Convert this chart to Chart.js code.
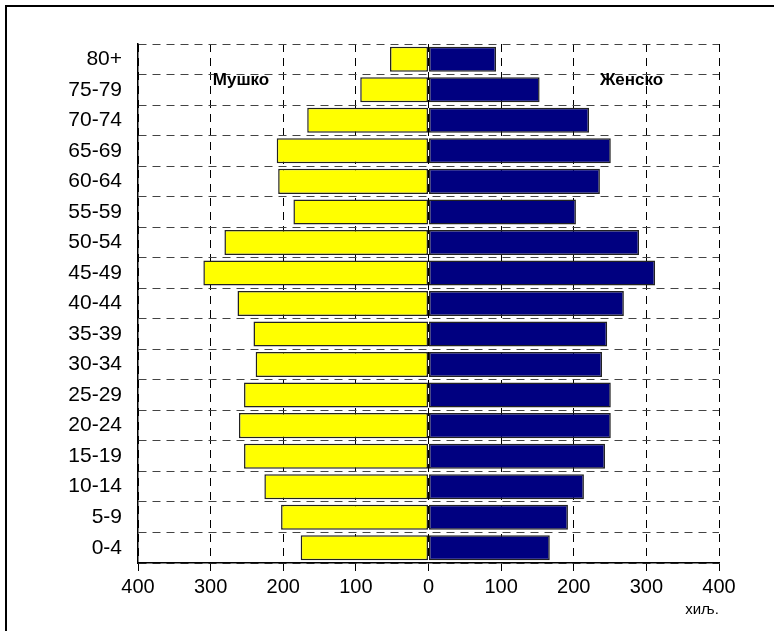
<!DOCTYPE html>
<html>
<head>
<meta charset="utf-8">
<script src="https://cdn.jsdelivr.net/npm/chart.js@4.4.1/dist/chart.umd.min.js"></script>
<style>
  html,body{margin:0;padding:0;background:#fff;}
  #wrap{position:relative;width:774px;height:631px;overflow:hidden;}
  #frame{position:absolute;left:5px;top:5px;width:800px;height:700px;border-left:2px solid #000;border-top:2px solid #000;pointer-events:none;}
  canvas{position:absolute;left:0;top:0;}
</style>
</head>
<body>
<div id="wrap">
  <canvas id="pyr" width="774" height="631"></canvas>
  <div id="frame"></div>
</div>
<script>
// age groups, top to bottom
const ageGroups = ['80+','75-79','70-74','65-69','60-64','55-59','50-54','45-49','40-44',
  '35-39','30-34','25-29','20-24','15-19','10-14','5-9','0-4'];
// thousands
const male   = [53, 94, 167, 209, 207, 186, 281, 310, 263, 241, 238, 254, 261, 254, 226, 203, 176];
const female = [93, 153, 221, 251, 236, 203, 290, 312, 269, 246, 239, 251, 251, 243, 214, 192, 167];
const xTicks = [-400, -300, -200, -100, 0, 100, 200, 300, 400];
const maleLabel = 'Мушко', femaleLabel = 'Женско', unitLabel = 'хиљ.';

const font = '"Liberation Sans", Arial, sans-serif';

const labelsPlugin = {
  id: 'pyrLabels',
  afterDraw(chart){
    const ctx = chart.ctx, x = chart.scales.x, y = chart.scales.y;
    const rowY = y.getPixelForValue(1) - 9;
    ctx.save();
    ctx.fillStyle = '#000';
    ctx.textBaseline = 'middle';
    ctx.font = 'bold 17px ' + font;
    ctx.textAlign = 'left';
    ctx.fillText(maleLabel, x.getPixelForValue(-297), rowY);
    ctx.fillText(femaleLabel, x.getPixelForValue(236), rowY);
    ctx.font = '15px ' + font;
    ctx.textAlign = 'center';
    ctx.fillText(unitLabel, x.getPixelForValue(400) - 17, chart.height - 21);
    ctx.restore();
  }
};

new Chart(document.getElementById('pyr').getContext('2d'), {
  type: 'bar',
  data: {
    labels: ageGroups,
    datasets: [
      {label: maleLabel, data: male.map(v => -v), backgroundColor: '#ffff00',
       borderColor: '#222', borderWidth: 1.5, borderSkipped: false},
      {label: femaleLabel, data: female, backgroundColor: '#000080',
       borderColor: '#222', borderWidth: 1.5, borderSkipped: false}
    ]
  },
  options: {
    indexAxis: 'y',
    responsive: false,
    animation: false,
    datasets: {bar: {barPercentage: 0.82, categoryPercentage: 1}},
    layout: {padding: {top: 44, right: 55, left: 0, bottom: 0}},
    plugins: {legend: {display: false}, tooltip: {enabled: false}},
    scales: {
      x: {
        stacked: true,
        min: -400, max: 400,
        afterBuildTicks: s => { s.ticks = xTicks.map(v => ({value: v})); },
        afterFit: s => { s.height = 631 - 563; },
        ticks: {
          callback: v => Math.abs(v),
          color: '#000', font: {family: font, size: 20}, padding: 4, maxRotation: 0
        },
        grid: {
          color: '#000', lineWidth: 1,
          drawTicks: true, tickLength: 8, tickBorderDash: [], tickColor: '#000', tickWidth: 1
        },
        border: {display: true, color: '#000', width: 1.5, dash: [8, 6]}
      },
      y: {
        stacked: true,
        afterFit: s => { s.width = 138; },
        ticks: {color: '#000', font: {family: font, size: 21}, padding: 16},
        grid: {color: '#444', lineWidth: 1, drawTicks: false, offset: true},
        border: {display: true, color: '#000', width: 1.5, dash: [8, 6]}
      }
    }
  },
  plugins: [labelsPlugin]
});
</script>
</body>
</html>
